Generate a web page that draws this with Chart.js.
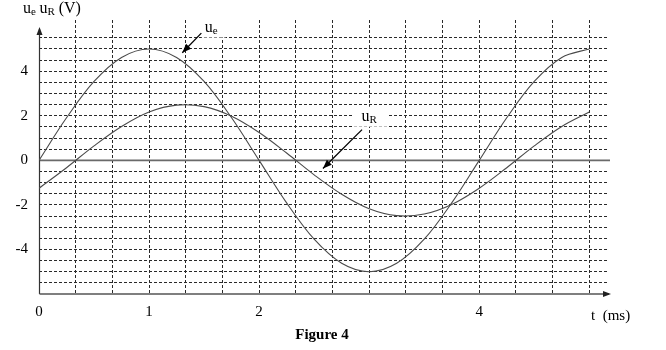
<!DOCTYPE html>
<html>
<head>
<meta charset="utf-8">
<script src="https://cdn.jsdelivr.net/npm/chart.js@4/dist/chart.umd.min.js"></script>
<style>
  html, body { margin: 0; padding: 0; background: #ffffff; }
  #wrap { width: 666px; height: 350px; }
</style>
</head>
<body>
<div id="wrap"><canvas id="c" width="666" height="350"></canvas></div>
<script>
// ---- data ----
const tValues  = [0, 0.25, 0.5, 0.75, 1, 1.25, 1.5, 1.75, 2, 2.25, 2.5, 2.75, 3, 3.25, 3.5, 3.75, 4, 4.25, 4.5, 4.75, 5];
const ueValues = [0, 1.91, 3.54, 4.62, 5, 4.62, 3.54, 1.91, 0, -1.91, -3.54, -4.62, -5, -4.62, -3.54, -1.91, 0, 1.91, 3.54, 4.62, 5];
const uRValues = [-1.25, -0.33, 0.65, 1.52, 2.17, 2.48, 2.41, 1.98, 1.25, 0.33, -0.65, -1.52, -2.17, -2.48, -2.41, -1.98, -1.25, -0.33, 0.65, 1.52, 2.17];

const xGridTicks = [0, 0.333, 0.667, 1, 1.333, 1.667, 2, 2.333, 2.667, 3, 3.333, 3.667, 4, 4.333, 4.667, 5];
const xLabeledTicks = [0, 1, 2, 4];
const yGridTicks = [-6, -5.5, -5, -4.5, -4, -3.5, -3, -2.5, -2, -1.5, -1, -0.5, 0, 0.5, 1, 1.5, 2, 2.5, 3, 3.5, 4, 4.5, 5, 5.5];
const yLabeledTicks = [-4, -2, 0, 2, 4];

const SERIF = '"Liberation Serif", "Times New Roman", serif';

function pts(ys) { return tValues.map((t, i) => ({ x: t, y: ys[i] })); }
function rnd(v) { return Math.round(v * 1000) / 1000; }

function arrowHead(ctx, x1, y1, x2, y2, len, half) {
  const a = Math.atan2(y2 - y1, x2 - x1);
  ctx.beginPath();
  ctx.moveTo(x2, y2);
  ctx.lineTo(x2 - len * Math.cos(a) + half * Math.sin(a), y2 - len * Math.sin(a) - half * Math.cos(a));
  ctx.lineTo(x2 - len * Math.cos(a) - half * Math.sin(a), y2 - len * Math.sin(a) + half * Math.cos(a));
  ctx.closePath();
  ctx.fill();
}

function subText(ctx, x, y, main, sub, big, small) {
  ctx.font = big + 'px ' + SERIF;
  ctx.textBaseline = 'alphabetic';
  ctx.textAlign = 'left';
  ctx.fillText(main, x, y);
  const w = ctx.measureText(main).width;
  ctx.font = small + 'px ' + SERIF;
  ctx.fillText(sub, x + w, y + 2);
  return x + w + ctx.measureText(sub).width;
}

function whiteBox(ctx, x, y, w, h) {
  ctx.save();
  ctx.fillStyle = '#ffffff';
  ctx.fillRect(x, y, w, h);
  ctx.restore();
}

const decor = {
  id: 'decor',
  beforeDatasetsDraw(chart) {
    const { ctx, chartArea, scales: { x, y } } = chart;
    ctx.save();
    // white boxes behind the curve labels (grid interrupted there)
    const ux = x.getPixelForValue(1.505), uy = y.getPixelForValue(5.74);
    whiteBox(ctx, ux - 3, uy - 14, 24, 19);
    const rx = x.getPixelForValue(2.93), ry = y.getPixelForValue(1.78);
    whiteBox(ctx, rx - 8, ry - 14, 34, 20);
    // zero line
    ctx.strokeStyle = '#6a6a6a';
    ctx.lineWidth = 1.6;
    ctx.beginPath();
    ctx.moveTo(x.getPixelForValue(0), y.getPixelForValue(0));
    ctx.lineTo(chartArea.right + 2, y.getPixelForValue(0));
    ctx.stroke();
    // y axis
    const x0 = x.getPixelForValue(0) + 0.5;
    const yb = y.getPixelForValue(-6);
    ctx.strokeStyle = '#333';
    ctx.fillStyle = '#222';
    ctx.lineWidth = 1.2;
    ctx.beginPath();
    ctx.moveTo(x0, yb);
    ctx.lineTo(x0, chartArea.top + 9);
    ctx.stroke();
    arrowHead(ctx, x0, chartArea.top + 20, x0, chartArea.top + 7, 8, 3);
    // x axis
    ctx.strokeStyle = '#555';
    ctx.lineWidth = 1.6;
    ctx.beginPath();
    ctx.moveTo(x0, yb);
    ctx.lineTo(chartArea.right + 1, yb);
    ctx.stroke();
    arrowHead(ctx, chartArea.right - 5, yb, chartArea.right + 3, yb, 8, 3);
    ctx.restore();
  },
  afterDraw(chart) {
    const { ctx, chartArea, scales: { x, y } } = chart;
    ctx.save();
    ctx.fillStyle = '#000';
    // y-axis title
    let cx = subText(ctx, 23, 12.5, 'u', 'e', 16, 11);
    cx = subText(ctx, cx + 3.5, 12.5, 'u', 'R', 16, 11);
    ctx.font = '16px ' + SERIF;
    ctx.fillText(' (V)', cx, 12.5);
    // x-axis title
    ctx.font = '15px ' + SERIF;
    ctx.textAlign = 'left';
    ctx.textBaseline = 'alphabetic';
    ctx.fillText('t  (ms)', chartArea.right - 17, 320);
    // caption
    ctx.font = 'bold 15px ' + SERIF;
    ctx.textAlign = 'center';
    ctx.fillText('Figure 4', 322, 339);
    // annotations
    ctx.fillStyle = '#000';
    ctx.strokeStyle = '#000';
    ctx.lineWidth = 1.3;
    subText(ctx, x.getPixelForValue(1.505), y.getPixelForValue(5.74), 'u', 'e', 16, 11);
    let ax1 = x.getPixelForValue(1.475), ay1 = y.getPixelForValue(5.71);
    let ax2 = x.getPixelForValue(1.302), ay2 = y.getPixelForValue(4.83);
    ctx.beginPath(); ctx.moveTo(ax1, ay1); ctx.lineTo(ax2, ay2); ctx.stroke();
    arrowHead(ctx, ax1, ay1, ax2, ay2, 9, 3.5);
    subText(ctx, x.getPixelForValue(2.93), y.getPixelForValue(1.78), 'u', 'R', 16, 11);
    ax1 = x.getPixelForValue(2.935); ay1 = y.getPixelForValue(1.38);
    ax2 = x.getPixelForValue(2.58); ay2 = y.getPixelForValue(-0.37);
    ctx.beginPath(); ctx.moveTo(ax1, ay1); ctx.lineTo(ax2, ay2); ctx.stroke();
    arrowHead(ctx, ax1, ay1, ax2, ay2, 9, 3.5);
    ctx.restore();
  }
};

const lineStyle = {
  borderColor: '#4a4a4a',
  borderWidth: 1.1,
  pointRadius: 0,
  fill: false,
  tension: 0.35
};

new Chart(document.getElementById('c'), {
  type: 'line',
  data: {
    datasets: [
      Object.assign({ label: 'ue', data: pts(ueValues) }, lineStyle),
      Object.assign({ label: 'uR', data: pts(uRValues) }, lineStyle)
    ]
  },
  options: {
    responsive: false,
    animation: false,
    devicePixelRatio: 1,
    layout: { padding: { top: 15, right: 58, bottom: 0, left: 0 } },
    plugins: { legend: { display: false }, tooltip: { enabled: false }, title: { display: false } },
    scales: {
      x: {
        type: 'linear',
        min: 0,
        max: 5.17,
        afterBuildTicks: (s) => { s.ticks = xGridTicks.map(v => ({ value: v })); },
        afterFit: (s) => { s.height = 56; },
        border: { display: false, dash: [3, 2] },
        grid: {
          drawTicks: false,
          lineWidth: 1,
          color: (c) => (c.tick && rnd(c.tick.value) === 0) ? 'rgba(0,0,0,0)' : '#2a2a2a'
        },
        ticks: {
          autoSkip: false,
          maxRotation: 0,
          padding: 9,
          color: '#000',
          font: { family: SERIF, size: 15 },
          callback: (v) => xLabeledTicks.includes(rnd(v)) ? String(rnd(v)) : ''
        }
      },
      y: {
        type: 'linear',
        min: -6,
        max: 6.3,
        afterBuildTicks: (s) => { s.ticks = yGridTicks.map(v => ({ value: v })); },
        afterFit: (s) => { s.width = 39; },
        border: { display: false, dash: [3, 2] },
        grid: {
          drawTicks: false,
          lineWidth: 1,
          color: (c) => (c.tick && (rnd(c.tick.value) === 0 || rnd(c.tick.value) === -6)) ? 'rgba(0,0,0,0)' : '#2a2a2a'
        },
        ticks: {
          autoSkip: false,
          padding: 11,
          color: '#000',
          font: { family: SERIF, size: 15 },
          callback: (v) => yLabeledTicks.includes(rnd(v)) ? String(rnd(v)) : ''
        }
      }
    }
  },
  plugins: [decor]
});
</script>
</body>
</html>
